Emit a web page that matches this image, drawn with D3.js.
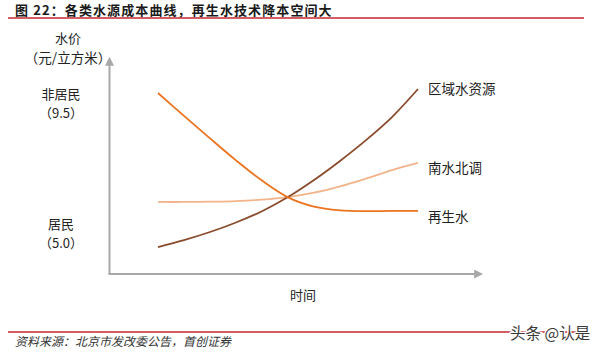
<!DOCTYPE html>
<html>
<head>
<meta charset="utf-8">
<script src="https://cdn.jsdelivr.net/npm/d3@7/dist/d3.min.js"></script>
<style>
  html, body { margin: 0; padding: 0; background: #ffffff; }
  svg { display: block; font-family: "Noto Sans CJK SC", "Noto Sans", sans-serif; }
</style>
</head>
<body>
<svg id="chart" width="600" height="355"></svg>
<script>
// Time steps (arbitrary units along the horizontal axis)
const timeSteps = [0, 1, 2, 3, 4, 5, 6, 7, 8, 9, 10];

// Cost curves, in 元/立方米 (schematic)
const reclaimedWater  = [9.81, 9.02, 8.24, 7.48, 6.78, 6.20, 5.88, 5.75, 5.72, 5.73, 5.73];
const regionalWater   = [4.48, 4.72, 5.00, 5.33, 5.72, 6.21, 6.80, 7.46, 8.18, 8.98, 9.95];
const southNorthWater = [6.04, 6.04, 6.05, 6.07, 6.12, 6.21, 6.36, 6.58, 6.85, 7.14, 7.39];

const seriesNames = ["区域水资源", "南水北调", "再生水"];
const seriesColors = ["#8a4b2c", "#f2b48b", "#ea7420"];

// Price reference levels shown on the vertical axis
const priceLevels = [9.5, 5.0];
const priceLevelNames = ["非居民", "居民"];

const titleText = "图 22：各类水源成本曲线，再生水技术降本空间大";
const sourceText = "资料来源：北京市发改委公告，首创证券";
const yAxisTitle = ["水价", "（元/立方米）"];
const xAxisTitle = "时间";
const watermark = "头条 @认是";

const svg = d3.select("#chart");

const x = d3.scaleLinear().domain([0, 10]).range([158, 418]);
const y = d3.scaleLinear().domain([5.0, 9.5]).range([232, 102]);

// Header and footer
svg.append("text")
  .attr("x", 15).attr("y", 15.4)
  .attr("font-size", 13).attr("font-weight", "bold").attr("fill", "#1a1a1a")
  .attr("letter-spacing", 1.1)
  .text(titleText);
svg.append("line")
  .attr("x1", 8).attr("x2", 584).attr("y1", 18).attr("y2", 18)
  .attr("stroke", "#c3272e").attr("stroke-width", 1.6);

svg.append("line")
  .attr("x1", 8).attr("x2", 584).attr("y1", 332).attr("y2", 332)
  .attr("stroke", "#c3272e").attr("stroke-width", 1.6);
svg.append("text")
  .attr("x", 15).attr("y", 346)
  .attr("font-size", 12).attr("font-style", "italic").attr("fill", "#333")
  .text(sourceText);

// Axes with arrowheads
const defs = svg.append("defs");
defs.append("marker")
  .attr("id", "arrow").attr("viewBox", "0 0 10 10")
  .attr("refX", 2).attr("refY", 5)
  .attr("markerWidth", 4.5).attr("markerHeight", 4.5)
  .attr("orient", "auto")
  .append("path").attr("d", "M0,0 L10,5 L0,10 Z").attr("fill", "#a8a8a8");

const originX = 109.5, originY = 274;
svg.append("line")
  .attr("x1", originX).attr("y1", originY).attr("x2", originX).attr("y2", 64)
  .attr("stroke", "#a8a8a8").attr("stroke-width", 2)
  .attr("marker-end", "url(#arrow)");
svg.append("line")
  .attr("x1", originX - 1).attr("y1", originY).attr("x2", 476).attr("y2", originY)
  .attr("stroke", "#a8a8a8").attr("stroke-width", 2)
  .attr("marker-end", "url(#arrow)");

// Axis captions
const label = (txt, cx, cy, size) => svg.append("text")
  .attr("x", cx).attr("y", cy)
  .attr("text-anchor", "middle").attr("dominant-baseline", "central")
  .attr("font-size", size).attr("fill", "#222")
  .text(txt);

label(yAxisTitle[0], 68, 37, 13);
label(yAxisTitle[1], 68, 57, 13.5);
label(xAxisTitle, 303, 294, 13);

priceLevels.forEach((v, i) => {
  label(priceLevelNames[i], 61, y(v) - 9, 13);
  label("（" + v.toFixed(1) + "）", 61, y(v) + 10, 13);
});

// Curves
const allSeries = [regionalWater, southNorthWater, reclaimedWater];
const line = d3.line()
  .x((d, i) => x(timeSteps[i]))
  .y(d => y(d))
  .curve(d3.curveCatmullRom.alpha(0.5));

// draw lighter curve first so darker ones sit above it
[1, 0, 2].forEach(k => {
  svg.append("path")
    .datum(allSeries[k])
    .attr("d", line)
    .attr("fill", "none")
    .attr("stroke", seriesColors[k])
    .attr("stroke-width", 1.8);
});

// End labels
allSeries.forEach((s, k) => {
  const last = s[s.length - 1];
  svg.append("text")
    .attr("x", x(timeSteps[timeSteps.length - 1]) + 10)
    .attr("y", y(last) + [-1, 4, 5][k])
    .attr("dominant-baseline", "central")
    .attr("font-size", 13.5).attr("fill", "#222")
    .text(seriesNames[k]);
});

// Watermark
svg.append("text")
  .attr("x", 510).attr("y", 339)
  .attr("font-size", 15.5).attr("fill", "#3a3a3a")
  .attr("stroke", "#ffffff").attr("stroke-width", 2.5)
  .attr("paint-order", "stroke")
  .text(watermark);
</script>
</body>
</html>
